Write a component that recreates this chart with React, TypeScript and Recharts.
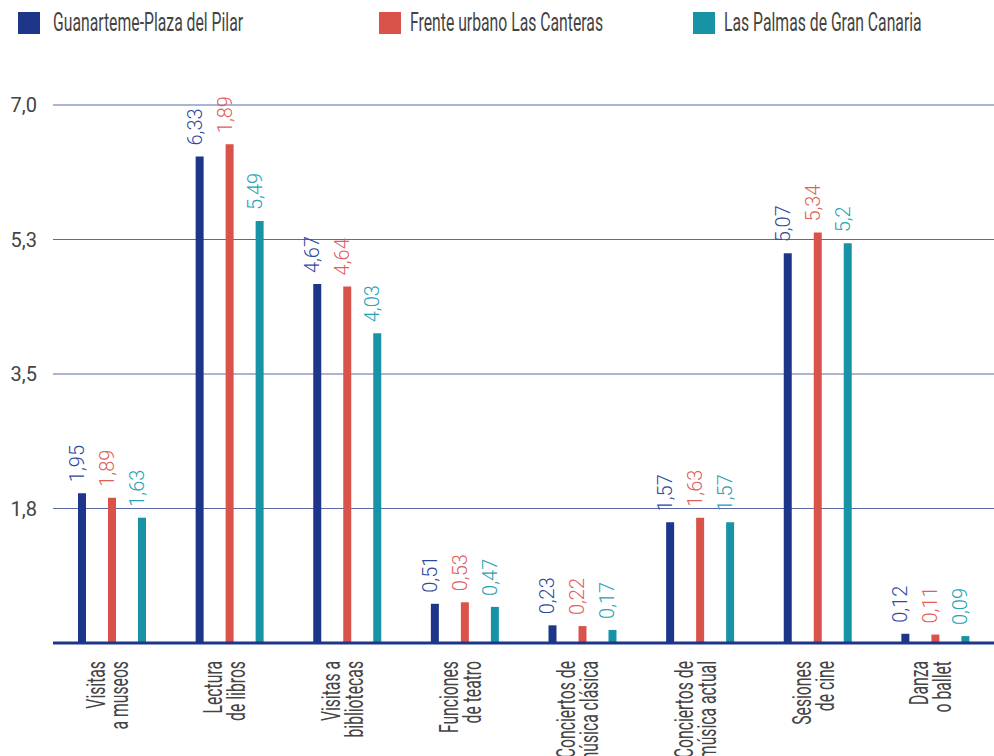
import { BarChart, Bar, XAxis, YAxis, CartesianGrid } from "recharts";

// --- Data ---
const categoryLines = [
  ["Visitas", "a museos"],
  ["Lectura", "de libros"],
  ["Visitas a", "bibliotecas"],
  ["Funciones", "de teatro"],
  ["Conciertos de", "música clásica"],
  ["Conciertos de", "música actual"],
  ["Sesiones", "de cine"],
  ["Danza", "o ballet"],
];
const guanarteme = [1.95, 6.33, 4.67, 0.51, 0.23, 1.57, 5.07, 0.12];
const canteras = [1.89, 6.49, 4.64, 0.53, 0.22, 1.63, 5.34, 0.11];
const palmas = [1.63, 5.49, 4.03, 0.47, 0.17, 1.57, 5.2, 0.09];
// printed labels (the original prints 1,89 on the tall Lectura bar)
const guanartemeLabels = ["1,95", "6,33", "4,67", "0,51", "0,23", "1,57", "5,07", "0,12"];
const canterasLabels = ["1,89", "1,89", "4,64", "0,53", "0,22", "1,63", "5,34", "0,11"];
const palmasLabels = ["1,63", "5,49", "4,03", "0,47", "0,17", "1,57", "5,2", "0,09"];
const yTicks = [1.75, 3.5, 5.25, 7];

const seriesNames = ["Guanarteme-Plaza del Pilar", "Frente urbano Las Canteras", "Las Palmas de Gran Canaria"];

const data = categoryLines.map((lines, i) => ({
  name: lines.join(" "),
  g: guanarteme[i],
  c: canteras[i],
  p: palmas[i],
}));

const FONT = "Roboto, 'Noto Sans', sans-serif";
const SQUEEZE = 0.63; // emulate the tall condensed face of the original
const BLUE = "#1d3689";
const RED = "#d9534a";
const TEAL = "#1893a6";
const TEXT = "#444";

const makeLabel = (labels: string[], color: string) => (props: any) => {
  const { x, y, width, index } = props;
  const cx = x + width / 2 + 2;
  const ty = y - 11;
  return (
    <text
      x={cx}
      y={ty}
      transform={`rotate(-90 ${cx} ${ty})`}
      fill={color}
      fontSize={20}
      fontWeight={300}
      fontFamily={FONT}
      textAnchor="start"
    >
      {labels[index]}
    </text>
  );
};

const CategoryTick = (props: any) => {
  const { x, y, index } = props;
  const lines = categoryLines[index] || [];
  const ty = y + 10;
  return (
    <g transform={`translate(${x},${ty}) rotate(-90) scale(${SQUEEZE},1)`}>
      {lines.map((l, i) => (
        <text key={i} x={0} y={i === 0 ? -7 : 16} textAnchor="end" fill={TEXT} fontSize={25} fontFamily={FONT}>
          {l}
        </text>
      ))}
    </g>
  );
};

const legendPos = [
  { sq: 18, tx: 53, color: BLUE },
  { sq: 379, tx: 410, color: RED },
  { sq: 693, tx: 724, color: TEAL },
];

export default function App() {
  return (
    <div style={{ position: "absolute", left: 0, top: 0, width: 994, height: 756, background: "#fff", overflow: "hidden" }}>
      {legendPos.map((l, i) => (
        <div key={i}>
          <div style={{ position: "absolute", left: l.sq, top: 12, width: 22, height: 22, background: l.color }} />
          <div
            style={{
              position: "absolute",
              left: l.tx,
              top: 7,
              fontSize: 25,
              lineHeight: "32px",
              fontFamily: FONT,
              color: TEXT,
              whiteSpace: "nowrap",
              transform: `scaleX(${SQUEEZE})`,
              transformOrigin: "left center",
            }}
          >
            {seriesNames[i]}
          </div>
        </div>
      ))}
      <BarChart
        width={994}
        height={756}
        data={data}
        margin={{ top: 105, right: 0, left: 0, bottom: 0 }}
        barSize={8}
        barGap={22}
      >
        <CartesianGrid vertical={false} stroke="#5a68a8" strokeWidth={1} />
        <XAxis
          dataKey="name"
          interval={0}
          height={113}
          tickLine={false}
          axisLine={{ stroke: BLUE, strokeWidth: 3 }}
          tick={<CategoryTick />}
        />
        <YAxis
          width={53}
          domain={[0, 7]}
          ticks={yTicks}
          axisLine={false}
          tickLine={false}
          tickSize={0}
          tickMargin={16}
          tick={{ fill: TEXT, fontSize: 20, fontFamily: FONT }}
          tickFormatter={(v: number) => v.toFixed(1).replace(".", ",")}
        />
        <Bar dataKey="g" fill={BLUE} isAnimationActive={false} label={makeLabel(guanartemeLabels, "#2d4a9e")} />
        <Bar dataKey="c" fill={RED} isAnimationActive={false} label={makeLabel(canterasLabels, "#e0605a")} />
        <Bar dataKey="p" fill={TEAL} isAnimationActive={false} label={makeLabel(palmasLabels, "#27a2b4")} />
      </BarChart>
    </div>
  );
}
